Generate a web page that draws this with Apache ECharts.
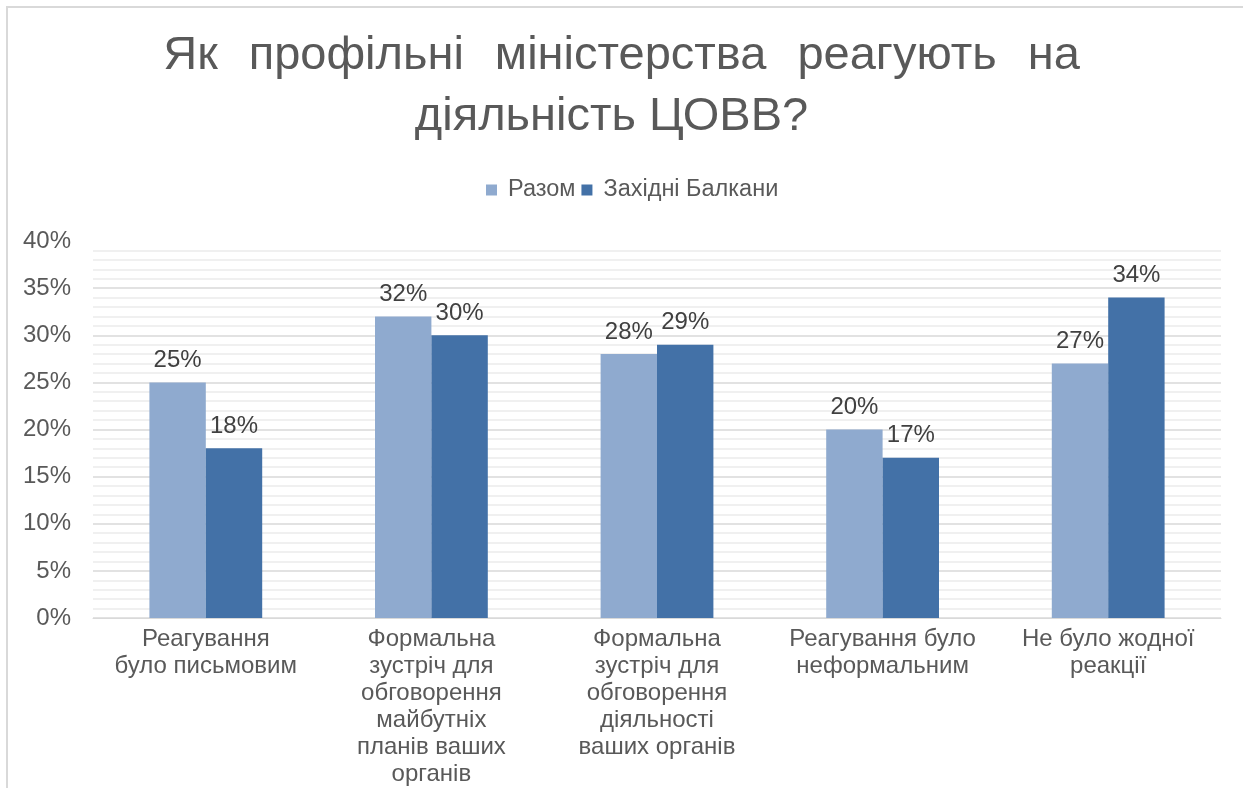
<!DOCTYPE html>
<html>
<head>
<meta charset="utf-8">
<script src="https://cdn.jsdelivr.net/npm/echarts@6/dist/echarts.min.js"></script>
<style>
  html, body { margin: 0; padding: 0; background: #ffffff; }
  #chart { width: 1243px; height: 788px; }
</style>
</head>
<body>
<div id="chart"></div>
<script>
// Survey answers: how line ministries respond to the work of the central executive bodies
const titleWords = ['Як', 'профільні', 'міністерства', 'реагують', 'на'];
const titleLine2 = 'діяльність ЦОВВ?';

const categories = [
  'Реагування\nбуло письмовим',
  'Формальна\nзустріч для\nобговорення\nмайбутніх\nпланів ваших\nорганів',
  'Формальна\nзустріч для\nобговорення\nдіяльності\nваших органів',
  'Реагування було\nнеформальним',
  'Не було жодної\nреакції'
];

const seriesNames = ['Разом', 'Західні Балкани'];
const totalValues = [25, 32, 28, 20, 27];        // Разом, %
const balkansValues = [18, 30, 29, 17, 34];      // Західні Балкани, %

const yTicks = { min: 0, max: 40, interval: 5 };

const FONT = '"Liberation Sans", Arial, sans-serif';
const TEXT = '#595959';

const chart = echarts.init(document.getElementById('chart'), null, { renderer: 'canvas' });

const barLabel = {
  show: true,
  position: 'top',
  distance: 10,
  formatter: '{c}%',
  fontFamily: FONT,
  fontSize: 24,
  color: '#404040'
};

chart.setOption({
  backgroundColor: '#ffffff',
  animation: false,
  graphic: [{
    type: 'rect',
    shape: { x: 7, y: 7, width: 1400, height: 1000 },
    style: { fill: 'none', stroke: '#d9d9d9', lineWidth: 2 },
    silent: true,
    z: -10
  }],
  title: {
    // first line is justified: words spread with fixed-width gaps
    text: titleWords.join('{g| }') + '\n' + titleLine2 + '{s| }',
    left: 'center',
    top: 26,
    padding: 0,
    textStyle: {
      fontFamily: FONT,
      fontSize: 47,
      fontWeight: 'normal',
      color: TEXT,
      lineHeight: 61,
      align: 'center',
      rich: {
        g: { width: 31, fontSize: 47, lineHeight: 61 },
        s: { width: 20, fontSize: 47, lineHeight: 61 }
      }
    }
  },
  legend: {
    data: seriesNames,
    left: 486,
    top: 178,
    padding: 0,
    icon: 'rect',
    itemWidth: 11,
    itemHeight: 11,
    itemGap: 6,
    textStyle: {
      fontFamily: FONT,
      fontSize: 23.5,
      color: TEXT,
      padding: [0, 0, 0, 6]
    }
  },
  grid: {
    left: 93,
    right: 22,
    top: 241,
    bottom: 166,
    containLabel: false
  },
  xAxis: {
    type: 'category',
    data: categories,
    axisTick: { show: false },
    axisLine: { lineStyle: { color: '#d9d9d9', width: 1 } },
    axisLabel: {
      interval: 0,
      margin: 8,
      fontFamily: FONT,
      fontSize: 24,
      lineHeight: 27,
      color: TEXT,
      align: 'center'
    }
  },
  yAxis: {
    type: 'value',
    min: yTicks.min,
    max: yTicks.max,
    interval: yTicks.interval,
    axisLine: { show: false },
    axisTick: { show: false },
    axisLabel: {
      formatter: '{value}%',
      margin: 22,
      padding: [0, 0, 4, 0],
      fontFamily: FONT,
      fontSize: 24,
      color: TEXT
    },
    splitLine: {
      show: true,
      lineStyle: {
        color: ['#d9d9d9', '#d9d9d9', '#d9d9d9', '#d9d9d9', '#d9d9d9', '#d9d9d9', '#d9d9d9', '#d9d9d9', 'rgba(0,0,0,0)'],
        width: 1.5
      }
    },
    minorTick: { show: false, splitNumber: 5 },
    minorSplitLine: {
      show: true,
      lineStyle: { color: '#ececec', width: 1.5 }
    }
  },
  series: [
    {
      name: seriesNames[0],
      type: 'bar',
      data: totalValues,
      barGap: '0%',
      barCategoryGap: '50%',
      itemStyle: { color: '#8faacf' },
      label: barLabel
    },
    {
      name: seriesNames[1],
      type: 'bar',
      data: balkansValues,
      barGap: '0%',
      barCategoryGap: '50%',
      itemStyle: { color: '#4371a7' },
      label: barLabel
    }
  ]
});
</script>
</body>
</html>
